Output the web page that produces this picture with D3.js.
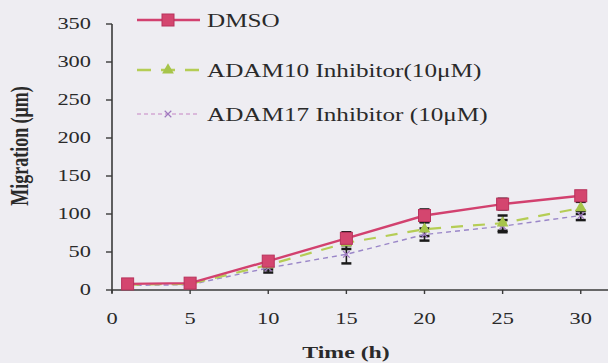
<!DOCTYPE html>
<html>
<head>
<meta charset="utf-8">
<script src="https://cdn.jsdelivr.net/npm/d3@7"></script>
<style>
  body { margin: 0; background: #eeedf2; }
</style>
</head>
<body>
<div id="chart"></div>
<script>
// data
var times = [1, 5, 10, 15, 20, 25, 30];
var dmso = [8, 9, 38, 68, 98, 113, 124];
var adam10 = [7, 8, 33, 62, 80, 88, 108];
var adam17 = [6, 7, 29, 47, 73, 84, 98];
var dmsoErr = [2, 2, 5, 8, 8, 7, 6];
var adam10Err = [2, 2, 6, 8, 9, 10, 8];
var adam17Err = [2, 2, 6, 12, 8, 8, 6];
var xTicks = [0, 5, 10, 15, 20, 25, 30];
var yTicks = [0, 50, 100, 150, 200, 250, 300, 350];
var seriesNames = ["DMSO", "ADAM10 Inhibitor(10\u03bcM)", "ADAM17 Inhibitor (10\u03bcM)"];

var W = 608, H = 363;
var stretch = 1.4; // the scanned figure is stretched sideways
var serif = "Liberation Serif";

var svg = d3.select("#chart").append("svg")
    .attr("width", W)
    .attr("height", H)
    .attr("font-family", serif);

var x = d3.scaleLinear().domain([0, 32]).range([112, 612]);
var y = d3.scaleLinear().domain([0, 350]).range([290, 24]);

// axes
var axisColor = "#3a3a3a";
svg.append("line")
    .attr("x1", x(0)).attr("x2", W)
    .attr("y1", y(0)).attr("y2", y(0))
    .attr("stroke", axisColor).attr("stroke-width", 1.6);
svg.append("line")
    .attr("x1", x(0)).attr("x2", x(0))
    .attr("y1", y(0) + 3).attr("y2", y(350))
    .attr("stroke", axisColor).attr("stroke-width", 1.6);

svg.selectAll(".xt").data(xTicks).enter().append("line")
    .attr("x1", function(d) { return x(d); })
    .attr("x2", function(d) { return x(d); })
    .attr("y1", y(0)).attr("y2", y(0) + 4)
    .attr("stroke", axisColor).attr("stroke-width", 1.4);

svg.selectAll(".yt").data(yTicks).enter().append("line")
    .attr("x1", x(0) - 6).attr("x2", x(0))
    .attr("y1", function(d) { return y(d); })
    .attr("y2", function(d) { return y(d); })
    .attr("stroke", axisColor).attr("stroke-width", 1.4);

svg.selectAll(".xl").data(xTicks).enter().append("text")
    .attr("transform", function(d) { return "translate(" + x(d) + ",324) scale(" + stretch + ",1)"; })
    .attr("text-anchor", "middle")
    .attr("font-family", serif)
    .attr("font-size", 16)
    .attr("fill", "#2a2a2a")
    .text(function(d) { return d; });

svg.selectAll(".yl").data(yTicks).enter().append("text")
    .attr("transform", function(d) { return "translate(91," + (y(d) + 5) + ") scale(" + stretch + ",1)"; })
    .attr("text-anchor", "end")
    .attr("font-family", serif)
    .attr("font-size", 16)
    .attr("fill", "#2a2a2a")
    .text(function(d) { return d; });

svg.append("text")
    .attr("transform", "translate(346,358) scale(" + stretch + ",1)")
    .attr("text-anchor", "middle")
    .attr("font-family", serif)
    .attr("font-size", 17)
    .attr("font-weight", "bold")
    .attr("fill", "#2a2a2a")
    .text("Time (h)");

svg.append("text")
    .attr("transform", "translate(28,146) scale(" + stretch + ",1) rotate(-90)")
    .attr("text-anchor", "middle")
    .attr("font-family", serif)
    .attr("font-size", 18)
    .attr("font-weight", "bold")
    .attr("fill", "#2a2a2a")
    .text("Migration (\u03bcm)");

// series
var series = [
  {name: seriesNames[0], vals: dmso, err: dmsoErr, color: "#d2416f", width: 2.4, dash: null, marker: "square"},
  {name: seriesNames[1], vals: adam10, err: adam10Err, color: "#b5cd55", width: 2.2, dash: "12,10", marker: "triangle"},
  {name: seriesNames[2], vals: adam17, err: adam17Err, color: "#9a86c8", width: 1.4, dash: "5,4", marker: "cross"}
];

var line = d3.line()
    .x(function(d) { return x(d[0]); })
    .y(function(d) { return y(d[1]); });

function drawMarker(g, type, cx, cy) {
  if (type === "square") {
    g.append("rect").attr("x", cx - 6).attr("y", cy - 6).attr("width", 12).attr("height", 12)
      .attr("fill", "#d4466f").attr("stroke", "#b8325c").attr("stroke-width", 1);
  } else if (type === "triangle") {
    g.append("path")
      .attr("d", d3.symbol().type(d3.symbolTriangle).size(60)())
      .attr("transform", "translate(" + cx + "," + cy + ")")
      .attr("fill", "#a6c44a");
  } else {
    g.append("path")
      .attr("d", d3.symbol().type(d3.symbolX).size(30)())
      .attr("transform", "translate(" + cx + "," + cy + ")")
      .attr("fill", "none").attr("stroke", "#a07ac0").attr("stroke-width", 1.2);
  }
}

// error bars under the markers
series.slice().reverse().forEach(function(s) {
  var g = svg.append("g");
  times.forEach(function(t, i) {
    var cx = x(t), lo = y(s.vals[i] - s.err[i]), hi = y(s.vals[i] + s.err[i]);
    g.append("line").attr("x1", cx).attr("x2", cx).attr("y1", lo).attr("y2", hi)
      .attr("stroke", "#1a1a1a").attr("stroke-width", 1.6);
    [lo, hi].forEach(function(yy) {
      g.append("line").attr("x1", cx - 5).attr("x2", cx + 5).attr("y1", yy).attr("y2", yy)
        .attr("stroke", "#1a1a1a").attr("stroke-width", 2.5);
    });
  });
});

series.slice().reverse().forEach(function(s) {
  svg.append("path")
      .datum(times.map(function(t, i) { return [t, s.vals[i]]; }))
      .attr("d", line)
      .attr("fill", "none")
      .attr("stroke", s.color)
      .attr("stroke-width", s.width)
      .attr("stroke-dasharray", s.dash);
  var g = svg.append("g");
  times.forEach(function(t, i) { drawMarker(g, s.marker, x(t), y(s.vals[i])); });
});

// legend
var legendY = [20, 70, 114];
var legendColors = ["#d2416f", "#b5cd55", "#d4a8d4"];
series.forEach(function(s, i) {
  var ly = legendY[i];
  svg.append("line")
      .attr("x1", 137).attr("x2", 200).attr("y1", ly).attr("y2", ly)
      .attr("stroke", legendColors[i])
      .attr("stroke-width", i === 2 ? 1.4 : 2.4)
      .attr("stroke-dasharray", i === 1 ? "14,10" : (i === 2 ? "4,3" : null));
  drawMarker(svg, s.marker, 168, ly);
  svg.append("text")
      .attr("transform", "translate(207," + (ly + 7) + ") scale(" + stretch + ",1)")
      .attr("font-family", serif)
      .attr("font-size", 18)
      .attr("fill", "#2a2a2a")
      .text(s.name);
});
</script>
</body>
</html>
